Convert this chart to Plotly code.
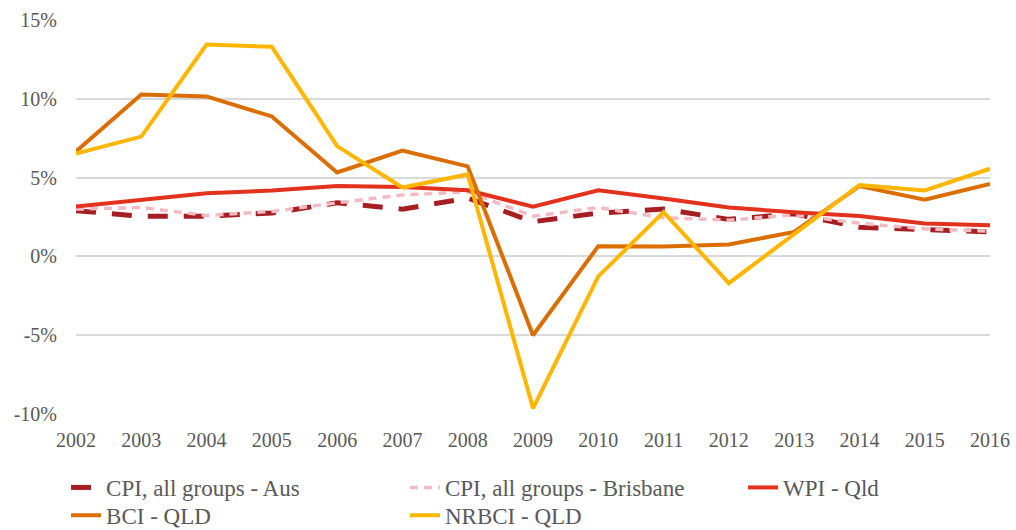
import plotly.graph_objects as go

years = list(range(2002, 2017))
cpi_aus = [2.9, 2.55, 2.55, 2.75, 3.4, 3.0, 3.7, 2.2, 2.75, 3.0, 2.35, 2.7, 1.85, 1.7, 1.55]
cpi_bne = [3.0, 3.1, 2.6, 2.85, 3.4, 3.9, 4.1, 2.55, 3.1, 2.45, 2.3, 2.65, 2.1, 1.75, 1.6]
wpi_qld = [3.17, 3.6, 4.0, 4.18, 4.46, 4.4, 4.2, 3.15, 4.2, 3.68, 3.1, 2.8, 2.56, 2.09, 1.97]
bci_qld = [6.66, 10.27, 10.15, 8.88, 5.33, 6.72, 5.71, -5.0, 0.65, 0.63, 0.76, 1.55, 4.46, 3.6, 4.6]
nrbci_qld = [6.53, 7.6, 13.44, 13.3, 7.0, 4.37, 5.2, -9.64, -1.27, 2.81, -1.7, 1.4, 4.52, 4.18, 5.56]

y_ticks = [-10, -5, 0, 5, 10, 15]
y_ticklabels = ["-10%", "-5%", "0%", "5%", "10%", "15%"]

series = [
    ("CPI, all groups - Aus", cpi_aus, "#A51E22", 5, "20px,16px", "legend"),
    ("CPI, all groups - Brisbane", cpi_bne, "#F2BAC3", 3.5, "8px,6px", "legend2"),
    ("WPI - Qld", wpi_qld, "#E2311D", 4, "solid", "legend3"),
    ("BCI - QLD", bci_qld, "#DB6E00", 4, "solid", "legend4"),
    ("NRBCI - QLD", nrbci_qld, "#FFB600", 4, "solid", "legend5"),
]

fig = go.Figure()
for name, vals, color, w, dash, lg in series:
    fig.add_trace(go.Scatter(
        x=years, y=vals, name=name, mode="lines", legend=lg,
        line=dict(color=color, width=w, dash=dash),
    ))

font = "Liberation Serif"
leg_common = dict(orientation="v", xref="container", yref="container",
                  xanchor="left", yanchor="top",
                  font=dict(size=23, color="#595959"), tracegroupgap=0,
                  bgcolor="rgba(0,0,0,0)")
col_x = [0.065, 0.3986, 0.7313]
row_y = [0.1208, 0.0685]
fig.update_layout(
    width=1016, height=530,
    margin=dict(l=76, r=26, t=20, b=116, autoexpand=False),
    plot_bgcolor="white", paper_bgcolor="white",
    font=dict(family=font, size=20, color="#595959"),
    xaxis=dict(range=[2002, 2016], tickvals=years, showgrid=False,
               zeroline=False, showline=False, ticks="", automargin=False,
               ticklabelstandoff=12,
               tickfont=dict(size=20, color="#595959")),
    yaxis=dict(range=[-10, 15], tickvals=y_ticks, ticktext=y_ticklabels,
               showgrid=True, gridcolor="#D9D9D9", gridwidth=1.5,
               zeroline=False, showline=False, ticks="", ticklabelstandoff=18,
               automargin=False,
               tickfont=dict(size=20, color="#595959")),
    legend=dict(x=col_x[0], y=row_y[0], **leg_common),
    legend2=dict(x=col_x[1], y=row_y[0], **leg_common),
    legend3=dict(x=col_x[2], y=row_y[0], **leg_common),
    legend4=dict(x=col_x[0], y=row_y[1], **leg_common),
    legend5=dict(x=col_x[1], y=row_y[1], **leg_common),
    showlegend=True,
)
fig.write_html("out.html", config={"displayModeBar": False},
               post_script="document.body.style.margin='0';")
